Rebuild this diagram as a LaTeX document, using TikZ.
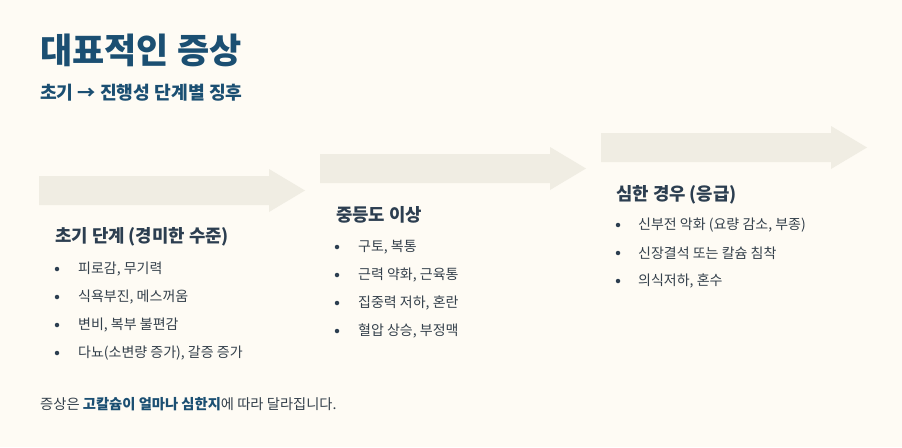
\documentclass[tikz,border=0pt]{standalone}
\usepackage{fontspec}
\setmainfont{Noto Sans CJK KR}
\usepackage{xcolor}
\usetikzlibrary{positioning}
\definecolor{pagebg}{HTML}{FEFBF4}
\definecolor{band}{HTML}{F0EDE3}
\definecolor{accent}{HTML}{1B4F72}
\definecolor{headink}{HTML}{2C3E50}
\definecolor{bodyink}{HTML}{34404B}

\begin{document}
\begin{tikzpicture}[x=1pt,y=-1pt,
 title/.style={anchor=west,inner sep=0pt,font=\bfseries\fontsize{35}{42}\selectfont,text=accent},
 subtitle/.style={anchor=west,inner sep=0pt,font=\bfseries\fontsize{18.2}{22}\selectfont,text=accent},
 stagehead/.style={anchor=west,inner sep=0pt,font=\bfseries\fontsize{17.8}{21}\selectfont,text=headink},
 item/.style={anchor=west,inner sep=0pt,font=\fontsize{14}{17}\selectfont,text=bodyink},
 dot/.style={circle,fill=headink,inner sep=0pt,minimum size=4.5pt},
 stagearrow/.style={fill=band}
]
\fill[pagebg] (0,0) rectangle (902,447);
\useasboundingbox (0,0) rectangle (902,447);

\foreach \ax/\ay in {39/176,320/154,601/133}
  \fill[stagearrow] (\ax,\ay) -- ++(230,0) -- ++(0,-7) -- ++(36,21.5) -- ++(-36,21.5) -- ++(0,-7) -- ++(-230,0) -- cycle;

\node[title] (title) at (40,50.5) {대표적인 증상};
\node[subtitle] (subtitle) at (40,92.5) {초기 → 진행성 단계별 징후};

\node[stagehead] (early) at (55,237) {초기 단계 (경미한 수준)};
\foreach \t [count=\i] in {{피로감, 무기력},{식욕부진, 메스꺼움},{변비, 복부 불편감},{다뇨(소변량 증가), 갈증 증가}} {
  \node[dot] (earlydot\i) at (57,241+28*\i) {};
  \node[item] (earlyitem\i) at (78,241+28*\i) {\t};
}

\node[stagehead] (moderate) at (336,215) {중등도 이상};
\foreach \t [count=\i] in {{구토, 복통},{근력 약화, 근육통},{집중력 저하, 혼란},{혈압 상승, 부정맥}} {
  \node[dot] (moddot\i) at (337,219+28*\i) {};
  \node[item] (moditem\i) at (358,219+28*\i) {\t};
}

\node[stagehead] (severe) at (616,195) {심한 경우 (응급)};
\foreach \t [count=\i] in {{신부전 악화 (요량 감소, 부종)},{신장결석 또는 칼슘 침착},{의식저하, 혼수}} {
  \node[dot] (sevdot\i) at (618,197+28*\i) {};
  \node[item] (sevitem\i) at (638,197+28*\i) {\t};
}

\node[item,font=\fontsize{14.3}{17}\selectfont] (note) at (40,404) {증상은 {\bfseries\color{accent}고칼슘이 얼마나 심한지}에 따라 달라집니다.};
\end{tikzpicture}
\end{document}
